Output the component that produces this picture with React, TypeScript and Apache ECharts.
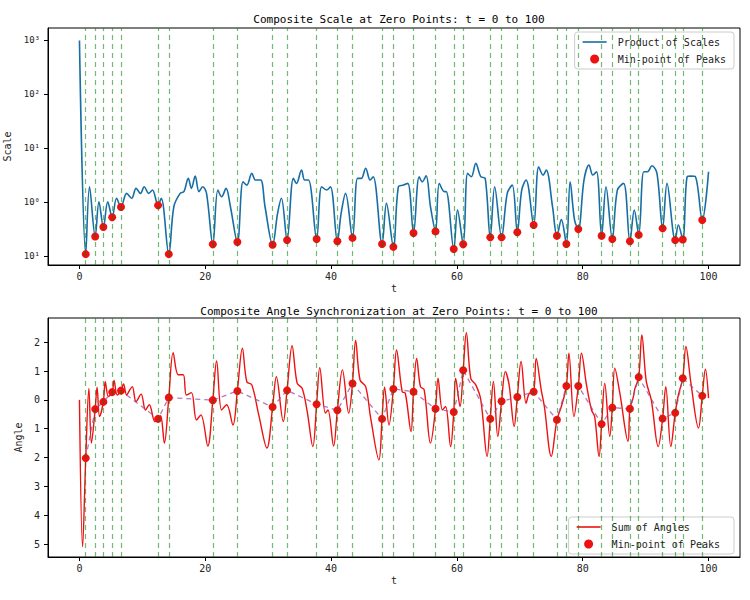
import { useEffect, useRef } from "react";
import * as echarts from "echarts";

const FONT = "DejaVu Sans Mono";

// zero points (t) where the dashed lines sit
const zeroT = [1.0, 2.5, 3.8, 5.2, 6.6, 12.5, 14.2, 21.2, 25.1, 30.7, 33.0, 37.7, 41.0, 43.4, 48.1, 49.9, 53.1, 56.6, 59.5, 61.0, 65.3, 67.1, 69.6, 72.2, 75.9, 77.4, 79.3, 83.0, 84.7, 87.5, 88.9, 92.7, 94.7, 95.9, 99.0];

const scaleMin = [0.11, 0.234, 0.35, 0.53, 0.82, 0.88, 0.11, 0.167, 0.184, 0.164, 0.2, 0.21, 0.19, 0.22, 0.17, 0.15, 0.27, 0.29, 0.137, 0.167, 0.225, 0.225, 0.28, 0.38, 0.24, 0.17, 0.32, 0.24, 0.21, 0.19, 0.25, 0.33, 0.2, 0.205, 0.47];

const angleMin = [-2.02, -0.32, -0.07, 0.27, 0.32, -0.66, 0.08, -0.01, 0.31, -0.25, 0.33, -0.15, -0.36, 0.57, -0.66, 0.38, 0.28, -0.31, -0.42, 1.03, -0.66, -0.05, 0.1, 0.28, -0.69, 0.48, 0.48, -0.84, -0.27, -0.31, 0.79, -0.65, -0.45, 0.75, 0.14];

const scaleCurve: [number, number][] = [
  [0, 1000], [1.0, 0.11], [1.6, 1.95], [2.5, 0.234], [3.1, 1.03], [3.8, 0.35], [4.5, 1.03], [5.2, 0.53], [5.9, 1.19], [6.6, 0.82],
  [7.5, 1.47], [8.3, 1.19], [9.0, 1.82], [9.7, 1.47], [10.3, 1.95], [11.0, 1.47], [11.6, 1.69], [12.5, 0.88], [13.0, 1.19], [14.2, 0.11],
  [15.0, 0.83], [16.0, 1.47], [16.6, 1.58], [17.3, 2.78], [17.8, 1.82], [18.4, 3.07], [19.0, 1.58], [19.6, 1.95], [20.2, 1.47], [21.2, 0.167],
  [22.0, 1.69], [22.6, 1.27], [23.3, 1.82], [24.0, 0.83], [25.1, 0.18], [26.0, 2.41], [26.6, 2.09], [27.4, 3.44], [28.0, 2.59], [28.8, 2.59],
  [29.5, 0.83], [30.7, 0.164], [31.5, 0.63], [32.1, 1.19], [33.0, 0.2], [34.0, 2.78], [34.5, 2.25], [35.3, 3.97], [35.8, 2.59], [36.4, 2.59],
  [37.7, 0.21], [38.5, 1.95], [39.3, 1.69], [39.9, 1.95], [41.0, 0.19], [41.6, 0.63], [42.3, 1.47], [43.4, 0.22], [44.2, 2.78], [44.8, 2.78],
  [45.5, 4.3], [46.2, 2.59], [46.7, 2.99], [48.1, 0.17], [48.8, 0.96], [49.9, 0.15], [50.7, 1.95], [51.5, 2.09], [52.2, 2.25], [53.1, 0.27],
  [54.0, 2.99], [54.5, 2.41], [55.1, 3.12], [55.8, 0.83], [56.6, 0.29], [57.2, 2.25], [58.0, 1.58], [58.3, 1.58], [59.5, 0.137], [60.1, 0.72],
  [61.0, 0.167], [61.7, 3.44], [62.3, 2.99], [63.0, 5.27], [63.8, 2.99], [64.5, 2.78], [65.3, 0.225], [66.0, 1.95], [67.1, 0.225], [68.0, 1.47],
  [68.8, 2.09], [69.6, 0.28], [70.3, 1.69], [71.0, 2.59], [72.2, 0.38], [73.0, 4.58], [73.7, 3.21], [74.2, 3.97], [75.2, 0.83], [75.9, 0.24],
  [76.6, 0.48], [77.4, 0.17], [78.0, 2.41], [78.7, 0.47], [79.3, 0.32], [80.2, 2.59], [81.0, 4.91], [81.6, 3.21], [82.2, 3.7], [83.0, 0.24],
  [83.7, 1.95], [84.7, 0.21], [85.5, 1.69], [86.5, 2.25], [87.5, 0.19], [88.2, 0.72], [88.9, 0.25], [89.7, 3.7], [90.3, 3.7], [91.0, 4.78],
  [91.8, 3.44], [92.7, 0.33], [93.4, 2.25], [94.7, 0.2], [95.2, 0.38], [95.9, 0.205], [96.6, 2.99], [97.2, 3.07], [97.9, 2.99], [99.0, 0.47],
  [100, 3.7],
];

const angleCurve: [number, number][] = [
  [0, 0], [0.5, -5.1], [1.0, -2.02], [1.5, 0.4], [1.9, -1.5], [2.5, -0.32], [2.8, 0.44], [3.2, -0.58], [3.8, -0.07], [4.1, 0.63],
  [4.6, 0.12], [5.2, 0.27], [5.5, 0.67], [6.0, 0.17], [6.6, 0.32], [7.0, 0.55], [7.5, 0.17], [8.0, 0.35], [8.4, 0.46], [9.0, -0.06],
  [9.8, 0.2], [10.5, -0.35], [11.1, -0.17], [12.0, -0.75], [12.5, -0.66], [12.9, -0.55], [13.5, -1.5], [14.2, 0.08], [14.9, 1.64], [15.7, 0.87],
  [16.5, 0.87], [17.0, 0.17], [17.8, 0.25], [18.6, -0.7], [19.3, -0.52], [20.4, -1.6], [21.2, -0.01], [21.8, 1.35], [22.6, -0.35], [23.4, -0.17],
  [24.4, -0.87], [25.1, 0.31], [25.9, 1.79], [26.6, 0.63], [27.4, 0.52], [28.5, -0.52], [29.8, -1.67], [30.7, -0.25], [31.3, 0.8], [32.4, -0.75],
  [33.0, 0.33], [33.8, 1.88], [34.6, 0.58], [35.4, 0.4], [36.2, -0.4], [37.1, -1.62], [37.7, -0.15], [38.2, 1.12], [39.1, -0.46], [39.5, -0.35],
  [40.4, -1.6], [41.0, -0.36], [41.8, 1.04], [42.8, -0.46], [43.4, 0.57], [43.9, 2.06], [44.6, 0.69], [45.5, 0.46], [46.3, -0.64], [47.6, -2.08],
  [48.1, -0.66], [48.5, 0.44], [49.2, -0.87], [49.9, 0.38], [50.4, 1.73], [51.3, 0.29], [51.8, 0.23], [52.7, -1.1], [53.1, 0.28], [53.6, 1.44],
  [54.2, 0.46], [54.8, 0.35], [55.8, -1.5], [56.6, -0.31], [57.0, 0.75], [57.7, -0.35], [58.2, -0.23], [59.0, -1.62], [59.5, -0.42], [59.8, 0.75],
  [60.5, -0.23], [61.0, 1.03], [61.5, 2.33], [62.2, 0.75], [63.0, 0.52], [63.8, 0], [64.8, -1.96], [65.3, -0.66], [65.8, 0.64], [66.5, -1.27],
  [67.1, -0.05], [67.7, 0.98], [68.3, 0.52], [69.1, -0.92], [69.6, 0.1], [70.2, 1.33], [71.0, -0.12], [71.5, 0.23], [72.2, 0.28], [72.6, 1.44],
  [73.4, 0.35], [73.9, -0.23], [75.0, -1.96], [75.9, -0.69], [76.6, -0.23], [77.4, 0.48], [77.8, 1.62], [78.6, -0.58], [79.3, 0.48], [79.8, 1.62],
  [80.6, 0.52], [81.4, -0.35], [81.9, -0.58], [82.6, -1.96], [83.0, -0.84], [83.5, 0.58], [84.3, -1.27], [84.7, -0.27], [85.1, 1.1], [85.9, 0.23],
  [87.2, -1.44], [87.5, -0.31], [88.0, 0.06], [88.3, 0.4], [88.9, 0.79], [89.4, 2.25], [90.1, 0.64], [90.9, 0], [92.0, -1.62], [92.7, -0.65],
  [93.2, 0.46], [94.0, -1.62], [94.7, -0.45], [95.2, 0.17], [95.9, 0.75], [96.4, 1.85], [97.2, 0.58], [98.4, -0.98], [99.0, 0.14], [99.5, 1.06],
  [100, 0.06],
];

const xTicks = [0, 20, 40, 60, 80, 100];
const scaleExpTicks = [-1, 0, 1, 2, 3];
const angleTicks = [-5, -4, -3, -2, -1, 0, 1, 2];

const SUP: Record<string, string> = { "0": "⁰", "1": "¹", "2": "²", "3": "³" };
const LINE_ICON = "path://M0,0 L30,0 L30,2 L0,2 Z";

export default function App() {
  const ref = useRef<HTMLDivElement>(null);

  useEffect(() => {
    if (!ref.current) return;
    document.body.style.margin = "0";
    const chart = echarts.init(ref.current, null, { renderer: "svg" });
    const txt = { fontFamily: FONT, fontSize: 10, color: "#222" };

    const xAxis = (gridIndex: number) => ({
      type: "value" as const,
      gridIndex,
      min: -5,
      max: 105,
      name: "t",
      nameLocation: "middle" as const,
      nameGap: 18,
      nameTextStyle: txt,
      axisLine: { show: true, onZero: false, lineStyle: { color: "#000" } },
      axisTick: { show: true, length: 4, customValues: xTicks, lineStyle: { color: "#000" } },
      axisLabel: { ...txt, customValues: xTicks, margin: 6 },
      splitLine: { show: false },
    });

    const zeroLines = {
      silent: true,
      symbol: "none",
      label: { show: false },
      lineStyle: { type: [5, 4], color: "rgba(0,128,0,0.55)", width: 1.2 },
      data: zeroT.map((t) => ({ xAxis: t })),
    };

    const legendBase = {
      orient: "vertical" as const,
      right: 16,
      itemWidth: 24,
      itemHeight: 9,
      itemGap: 7,
      padding: [5, 8],
      borderColor: "#ccc",
      borderWidth: 1,
      borderRadius: 3,
      backgroundColor: "rgba(255,255,255,0.85)",
      textStyle: { fontFamily: FONT, fontSize: 10, color: "#222", padding: [0, 0, 0, 6] },
    };

    chart.setOption({
      animation: false,
      title: [
        { text: "Composite Scale at Zero Points: t = 0 to 100", left: 394, top: 9, textAlign: "center", textStyle: { fontFamily: FONT, fontSize: 11, fontWeight: "normal", color: "#000" } },
        { text: "Composite Angle Synchronization at Zero Points: t = 0 to 100", left: 394, top: 301, textAlign: "center", textStyle: { fontFamily: FONT, fontSize: 11, fontWeight: "normal", color: "#000" } },
      ],
      grid: [
        { left: 48, right: 10, top: 28, height: 237, show: true, borderColor: "#000", borderWidth: 1, outerBoundsMode: "none", containLabel: false },
        { left: 48, right: 10, top: 318, height: 239, show: true, borderColor: "#000", borderWidth: 1, outerBoundsMode: "none", containLabel: false },
      ],
      legend: [
        { ...legendBase, top: 32, data: [{ name: "Product of Scales", icon: LINE_ICON }, { name: "Min-point of Peaks", icon: "circle" }] },
        { ...legendBase, bottom: 46, data: [{ name: "Sum of Angles", icon: LINE_ICON }, { name: "Min-point of Peaks ", icon: "circle" }] },
      ],
      xAxis: [xAxis(0), xAxis(1)],
      yAxis: [
        {
          type: "value",
          gridIndex: 0,
          min: -1.16,
          max: 3.23,
          name: "Scale",
          nameLocation: "middle",
          nameGap: 18,
          nameTextStyle: txt,
          axisLine: { show: true, onZero: false, lineStyle: { color: "#000" } },
          axisTick: { show: true, length: 4, customValues: scaleExpTicks, lineStyle: { color: "#000" } },
          axisLabel: {
            ...txt,
            fontSize: 9,
            customValues: scaleExpTicks,
            formatter: (v: number) => "10" + SUP[String(Math.abs(Math.round(v)))],
          },
          splitLine: { show: false },
        },
        {
          type: "value",
          gridIndex: 1,
          min: -5.45,
          max: 2.84,
          name: "Angle",
          nameLocation: "middle",
          nameGap: 24,
          nameTextStyle: txt,
          axisLine: { show: true, onZero: false, lineStyle: { color: "#000" } },
          axisTick: { show: true, length: 4, customValues: angleTicks, lineStyle: { color: "#000" } },
          axisLabel: { ...txt, customValues: angleTicks, formatter: (v: number) => String(Math.abs(Math.round(v))) },
          splitLine: { show: false },
        },
      ],
      series: [
        {
          name: "Product of Scales",
          type: "line",
          xAxisIndex: 0,
          yAxisIndex: 0,
          data: scaleCurve.map(([t, v]) => [t, Math.log10(v)]),
          smooth: 0.35,
          symbol: "none",
          lineStyle: { color: "#176ea5", width: 1.6 },
          itemStyle: { color: "#176ea5" },
          markLine: zeroLines,
          z: 3,
        },
        {
          name: "Min-point of Peaks",
          type: "scatter",
          xAxisIndex: 0,
          yAxisIndex: 0,
          data: zeroT.map((t, i) => [t, Math.log10(scaleMin[i])]),
          symbolSize: 8,
          itemStyle: { color: "#ee1111", opacity: 1 },
          z: 4,
        },
        {
          name: "Sum of Angles",
          type: "line",
          xAxisIndex: 1,
          yAxisIndex: 1,
          data: angleCurve,
          smooth: 0.35,
          symbol: "none",
          lineStyle: { color: "#ee1111", width: 1.4 },
          itemStyle: { color: "#ee1111" },
          markLine: zeroLines,
          z: 3,
        },
        {
          name: "min-link",
          type: "line",
          xAxisIndex: 1,
          yAxisIndex: 1,
          data: zeroT.map((t, i) => [t, angleMin[i]]),
          symbol: "none",
          lineStyle: { color: "rgba(150,80,160,0.75)", width: 1.3, type: [5, 4] },
          z: 3,
        },
        {
          name: "Min-point of Peaks ",
          type: "scatter",
          xAxisIndex: 1,
          yAxisIndex: 1,
          data: zeroT.map((t, i) => [t, angleMin[i]]),
          symbolSize: 8,
          itemStyle: { color: "#ee1111", opacity: 1 },
          z: 4,
        },
      ],
    });

    return () => chart.dispose();
  }, []);

  return <div ref={ref} style={{ width: 750, height: 600 }} />;
}
